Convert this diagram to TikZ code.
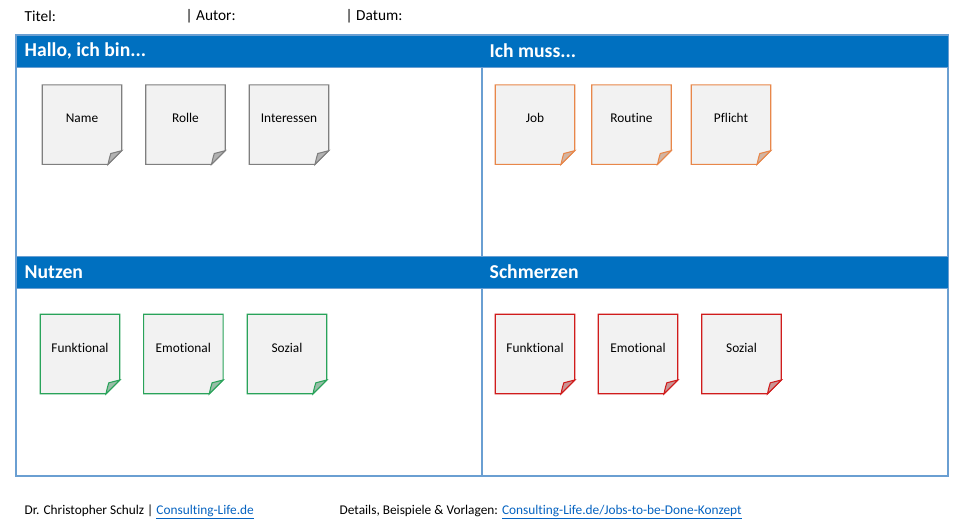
\documentclass[tikz,border=0pt]{standalone}
\usepackage{fontspec}
\setmainfont{Carlito}[Ligatures=NoCommon]
\definecolor{kopfblau}{HTML}{0070C0}
\definecolor{rahmenblau}{HTML}{6A9FD2}
\definecolor{linkblau}{HTML}{0563C1}
\definecolor{notizgrau}{HTML}{F2F2F2}
\definecolor{faltgrau}{HTML}{C8C8C8}
\definecolor{randgrau}{HTML}{7F7F7F}
\definecolor{randorange}{HTML}{E8874A}
\definecolor{randgruen}{HTML}{29A35A}
\definecolor{randrot}{HTML}{D01C1C}

% sticky note: name, x, y, colour, text
\newcommand{\notiz}[5]{%
  \begin{scope}[shift={(#2,#3)}]
    \draw[notiz, draw=#4] (-39.75,-39.75) -- (39.75,-39.75) -- (39.75,26) -- (26,39.75) -- (-39.75,39.75) -- cycle;
    \draw[notiz, draw=#4, fill=#4!30!faltgrau] (39.75,26) -- (26,39.75) .. controls (27.5,33) .. (28.8,28.8) -- cycle;
    \node[notiztext] (#1) at (0,-6.5) {#5};
  \end{scope}}

\begin{document}
\begin{tikzpicture}[
    x=0.75pt, y=-0.75pt,
    notiz/.style={line width=0.8pt, fill=notizgrau, line join=miter},
    notiztext/.style={font=\fontsize{10}{12}\selectfont, text=black},
    kopf/.style={fill=kopfblau, draw=rahmenblau, line width=0.75pt},
    kopftext/.style={anchor=west, text=white, font=\fontsize{14.75}{17}\selectfont\bfseries},
    rahmen/.style={draw=rahmenblau, line width=1pt},
    zeile/.style={anchor=west, font=\fontsize{11.5}{13}\selectfont},
    fuss/.style={anchor=west, font=\fontsize{10}{12}\selectfont},
    link/.style={text=linkblau}
]
    \useasboundingbox[fill=white] (0,0) rectangle (964,529);

    % title line at the top
    \node[zeile] (titel) at (20,16) {Titel:};
    \node[zeile] (autor) at (181,16) {| Autor:};
    \node[zeile] (datum) at (341,16) {| Datum:};

    % canvas frame and header bars
    \draw[rahmen] (16,35) rectangle (948,476);
    \draw[rahmen] (482,35) -- (482,476);
    \draw[kopf] (16,35) rectangle (948,67);
    \draw[kopf] (16,256) rectangle (948,288);
    \node[kopftext] (hallo) at (20,51) {Hallo, ich bin...};
    \node[kopftext] (muss) at (485,51) {Ich muss...};
    \node[kopftext] (nutzen) at (20,272) {Nutzen};
    \node[kopftext] (schmerzen) at (485,272) {Schmerzen};

    % notes: Hallo, ich bin...
    \notiz{name}{82}{124.7}{randgrau}{Name}
    \notiz{rolle}{185.5}{124.7}{randgrau}{Rolle}
    \notiz{interessen}{289}{124.7}{randgrau}{Interessen}

    % notes: Ich muss...
    \notiz{job}{535}{124.7}{randorange}{Job}
    \notiz{routine}{631.5}{124.7}{randorange}{Routine}
    \notiz{pflicht}{731}{124.7}{randorange}{Pflicht}

    % notes: Nutzen
    \notiz{nfunk}{80}{354}{randgruen}{Funktional}
    \notiz{nemo}{183.3}{354}{randgruen}{Emotional}
    \notiz{nsozial}{287}{354}{randgruen}{Sozial}

    % notes: Schmerzen
    \notiz{sfunk}{535}{354}{randrot}{Funktional}
    \notiz{semo}{638}{354}{randrot}{Emotional}
    \notiz{ssozial}{741.5}{354}{randrot}{Sozial}

    % footer
    \node[fuss] (autorfuss) at (20,512) {Dr. Christopher Schulz | \textcolor{linkblau}{\underline{Consulting-Life.de}}};
    \node[fuss] (details) at (335,512) {Details, Beispiele \& Vorlagen: \textcolor{linkblau}{\underline{Consulting-Life.de/Jobs-to-be-Done-Konzept}}};
\end{tikzpicture}
\end{document}
